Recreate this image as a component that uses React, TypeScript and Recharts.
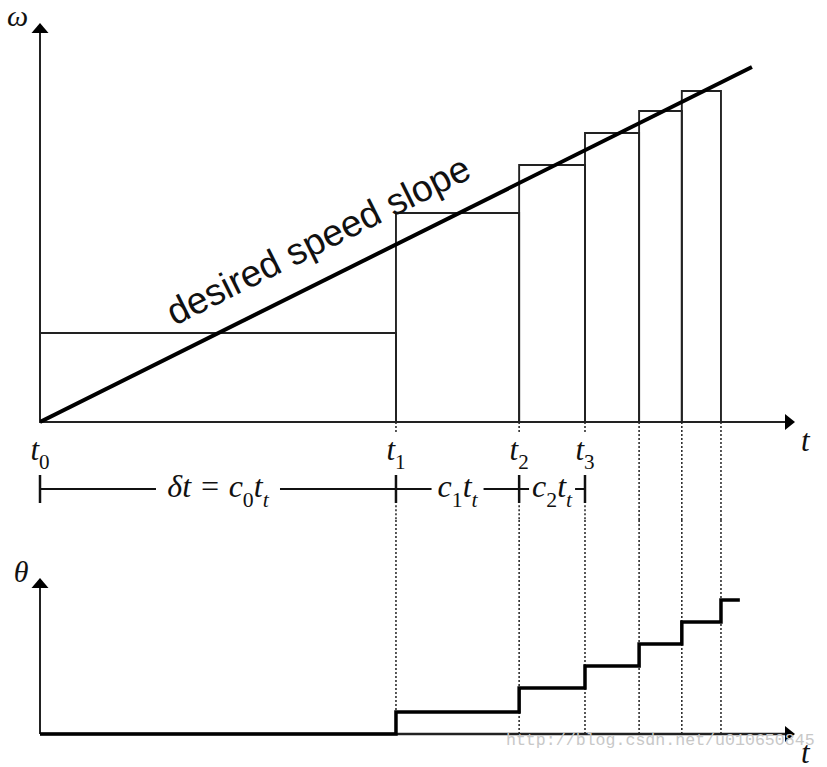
import React from 'react';
import { ComposedChart, Line, XAxis, YAxis, ReferenceLine, ReferenceArea, ReferenceDot } from 'recharts';

// time boundaries t0..t6 (arbitrary time units)
const boundaries = [0, 10, 13.46, 15.31, 16.83, 18.03, 19.13];
// commanded speed level held during each interval
const omegaLevels = [22.25, 52.25, 64.25, 72.25, 77.75, 82.75];
// desired speed slope
const slopeLine = [
  { t: 0, w: 0 },
  { t: 20, w: 88.75 },
];
// position (theta) after each step
const thetaLevels = [0, 1, 2.09, 3.09, 4.09, 5.09, 6.09];
const thetaEndT = 19.66;
// labelled ticks on the time axis
const tickSubs = ['0', '1', '2', '3'];
// interval labels (c_i t_t)
const intervalLabels = [
  [{ text: 'δt = c' }, { text: '0', sub: true, upright: true }, { text: 't' }, { text: 't', sub: true }],
  [{ text: 'c' }, { text: '1', sub: true, upright: true }, { text: 't' }, { text: 't', sub: true }],
  [{ text: 'c' }, { text: '2', sub: true, upright: true }, { text: 't' }, { text: 't', sub: true }],
];
const intervalGapPx = [124, 52, 46];

// axis extents
const tAxisMax = 21.21;
const omegaAxisMax = 99.75;
const thetaAxisMax = 7.09;

const thetaData = [
  ...boundaries.map((t, i) => ({ t, th: thetaLevels[i] })),
  { t: thetaEndT, th: thetaLevels[thetaLevels.length - 1] },
];

const SERIF = "'Liberation Serif', 'Times New Roman', serif";
const SANS = "'Liberation Sans', Arial, sans-serif";
const AX = '#222';

type Part = { text: string; sub?: boolean; upright?: boolean };

const MathText = ({ cx, cy, parts, size = 30, anchor = 'middle' }: any) => {
  let cur = 0;
  const subDy = Math.round(size * 0.3);
  return (
    <text
      x={cx}
      y={cy}
      textAnchor={anchor}
      fontFamily={SERIF}
      fontStyle="italic"
      fontSize={size}
      fill="#111"
    >
      {(parts as Part[]).map((p, i) => {
        const target = p.sub ? subDy : 0;
        const dy = target - cur;
        cur = target;
        return (
          <tspan
            key={i}
            dy={dy}
            fontSize={p.sub ? size * 0.68 : size}
            fontStyle={p.upright ? 'normal' : 'italic'}
          >
            {p.text}
          </tspan>
        );
      })}
    </text>
  );
};

const arrowShape = (dir: 'up' | 'right') => (p: any) => {
  const { cx, cy } = p;
  const d =
    dir === 'up'
      ? `M${cx},${cy} L${cx - 8.5},${cy + 10} L${cx + 8.5},${cy + 10} Z`
      : `M${cx},${cy} L${cx - 10},${cy - 8} L${cx - 10},${cy + 8} Z`;
  return <path d={d} fill="#000" />;
};

const W = 827;
const X_DOMAIN: [number, number] = [0, 21.35];
const MARGIN_X = { left: 40, right: 27 };

export default function App() {
  const topStepsDotted = boundaries.slice(1);
  return (
    <div style={{ position: 'absolute', left: 0, top: 0, width: W, height: 767, background: '#fff' }}>
      <ComposedChart width={W} height={520} margin={{ top: 22, bottom: 0, ...MARGIN_X }}>
        <XAxis type="number" dataKey="t" domain={X_DOMAIN} allowDataOverflow hide />
        <YAxis type="number" domain={[-24.5, 100]} allowDataOverflow hide />

        {omegaLevels.map((lv, i) => (
          <ReferenceArea
            key={`bar${i}`}
            x1={boundaries[i]}
            x2={i + 1 < boundaries.length ? boundaries[i + 1] : boundaries[i]}
            y1={0}
            y2={lv}
            fill="none"
            fillOpacity={0}
            stroke={AX}
            strokeWidth={1.9}
          />
        ))}

        {/* dotted drop lines */}
        {topStepsDotted.map((t, i) =>
          i < 3 ? (
            <React.Fragment key={`dt${i}`}>
              <ReferenceLine segment={[{ x: t, y: 0 }, { x: t, y: -2.6 }]} stroke="#222" strokeWidth={1.5} strokeDasharray="2 2" />
              <ReferenceLine segment={[{ x: t, y: -20.8 }, { x: t, y: -24.5 }]} stroke="#222" strokeWidth={1.5} strokeDasharray="2 2" />
            </React.Fragment>
          ) : (
            <ReferenceLine key={`dt${i}`} segment={[{ x: t, y: 0 }, { x: t, y: -24.5 }]} stroke="#222" strokeWidth={1.5} strokeDasharray="2 2" />
          )
        )}

        {/* axes */}
        <ReferenceLine segment={[{ x: 0, y: 0 }, { x: tAxisMax - 0.25, y: 0 }]} stroke={AX} strokeWidth={2} />
        <ReferenceLine segment={[{ x: 0, y: 0 }, { x: 0, y: omegaAxisMax - 2.3 }]} stroke={AX} strokeWidth={2} />
        <ReferenceDot x={tAxisMax} y={0} shape={arrowShape('right')} ifOverflow="visible" />
        <ReferenceDot x={0} y={omegaAxisMax} shape={arrowShape('up')} ifOverflow="visible" />

        {/* interval bracket */}
        <ReferenceLine segment={[{ x: 0, y: -16.75 }, { x: boundaries[3], y: -16.75 }]} stroke="#111" strokeWidth={2} />
        {boundaries.slice(0, 4).map((t, i) => (
          <ReferenceLine key={`bt${i}`} segment={[{ x: t, y: -13.25 }, { x: t, y: -20.25 }]} stroke="#111" strokeWidth={2.5} />
        ))}
        {intervalLabels.map((parts, i) => (
          <ReferenceDot
            key={`il${i}`}
            x={(boundaries[i] + boundaries[i + 1]) / 2}
            y={-16.75}
            ifOverflow="visible"
            shape={(p: any) => (
              <g>
                <rect x={p.cx - intervalGapPx[i] / 2} y={p.cy - 3} width={intervalGapPx[i]} height={6} fill="#fff" />
                <MathText cx={p.cx} cy={p.cy + 8} parts={parts} size={32} />
              </g>
            )}
          />
        ))}

        {/* tick labels t0..t3 */}
        {tickSubs.map((s, i) => (
          <ReferenceDot
            key={`tl${i}`}
            x={boundaries[i]}
            y={-9.5}
            ifOverflow="visible"
            shape={(p: any) => <MathText cx={p.cx} cy={p.cy} parts={[{ text: 't' }, { text: s, sub: true, upright: true }]} size={31} />}
          />
        ))}

        {/* axis names */}
        <ReferenceDot x={21.5} y={-7.25} ifOverflow="visible" shape={(p: any) => <MathText cx={p.cx} cy={p.cy} parts={[{ text: 't' }]} size={31} />} />
        <ReferenceDot x={-0.63} y={98.9} ifOverflow="visible" shape={(p: any) => <MathText cx={p.cx} cy={p.cy} parts={[{ text: 'ω' }]} size={30} />} />

        <Line data={slopeLine} dataKey="w" type="linear" stroke="#000" strokeWidth={4} dot={false} isAnimationActive={false} />

        <ReferenceDot
          x={8.3}
          y={36.83}
          ifOverflow="visible"
          shape={(p: any) => (
            <text
              x={p.cx}
              y={p.cy - 26}
              transform={`rotate(-26.5 ${p.cx} ${p.cy})`}
              textAnchor="middle"
              fontFamily={SANS}
              fontSize={37.3}
              fill="#111"
            >
              desired speed slope
            </text>
          )}
        />
      </ComposedChart>

      <ComposedChart width={W} height={247} margin={{ top: 0, bottom: 0, ...MARGIN_X }}>
        <XAxis type="number" dataKey="t" domain={X_DOMAIN} allowDataOverflow hide />
        <YAxis type="number" domain={[-1.5, 9.727]} allowDataOverflow hide />

        {topStepsDotted.map((t, i) => (
          <ReferenceLine key={`db${i}`} segment={[{ x: t, y: 0 }, { x: t, y: 9.727 }]} stroke="#222" strokeWidth={1.5} strokeDasharray="2 2" />
        ))}

        <ReferenceLine segment={[{ x: 0, y: 0 }, { x: tAxisMax - 0.25, y: 0 }]} stroke={AX} strokeWidth={2.5} />
        <ReferenceLine segment={[{ x: 0, y: 0 }, { x: 0, y: thetaAxisMax - 0.42 }]} stroke={AX} strokeWidth={2} />
        <ReferenceDot x={tAxisMax} y={0} shape={arrowShape('right')} ifOverflow="visible" />
        <ReferenceDot x={0} y={thetaAxisMax} shape={arrowShape('up')} ifOverflow="visible" />

        <Line data={thetaData} dataKey="th" type="stepAfter" stroke="#000" strokeWidth={3.5} dot={false} isAnimationActive={false} />

        <ReferenceDot
          x={13.09}
          y={-0.5}
          ifOverflow="visible"
          shape={(p: any) => (
            <text x={p.cx} y={p.cy} fontFamily="'Liberation Mono', 'DejaVu Sans Mono', monospace" fontSize={16.6} fill="#c8c8c8">
              http://blog.csdn.net/u010650845
            </text>
          )}
        />
        <ReferenceDot x={21.5} y={-1.3} ifOverflow="visible" shape={(p: any) => <MathText cx={p.cx} cy={p.cy} parts={[{ text: 't' }]} size={31} />} />
        <ReferenceDot x={-0.53} y={6.9} ifOverflow="visible" shape={(p: any) => <MathText cx={p.cx} cy={p.cy} parts={[{ text: 'θ' }]} size={30} />} />
      </ComposedChart>
    </div>
  );
}
